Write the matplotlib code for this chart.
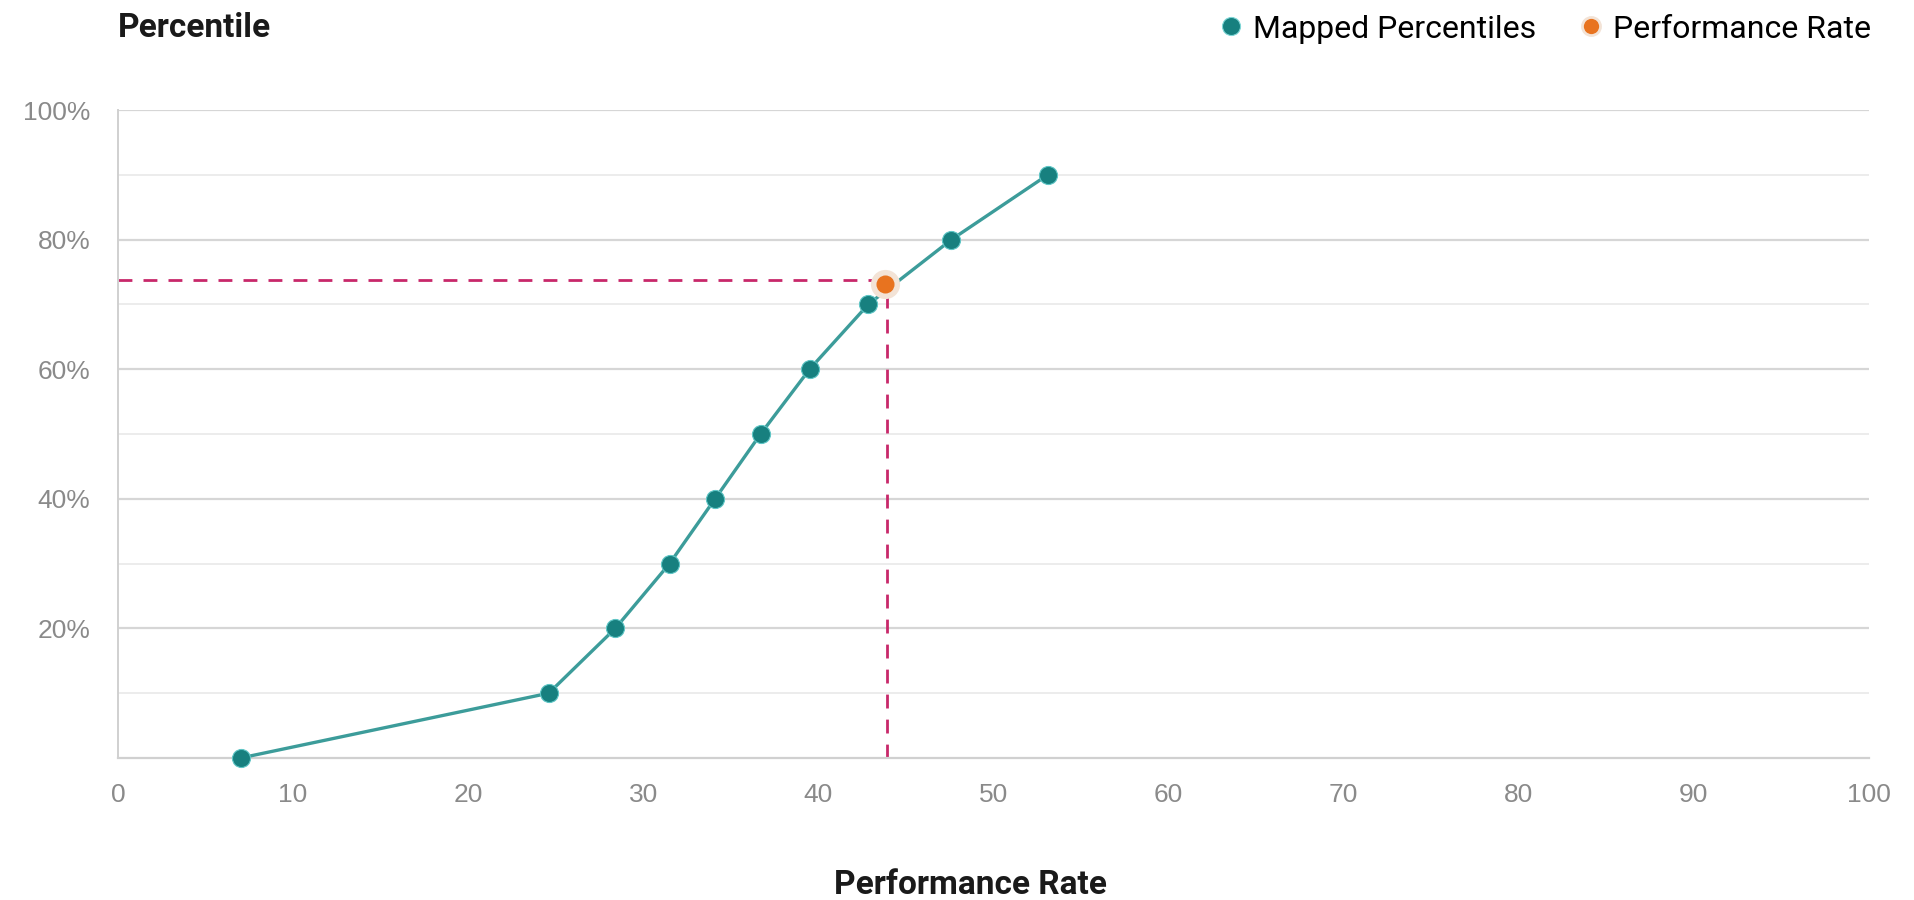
import matplotlib.pyplot as plt
from matplotlib.lines import Line2D
from matplotlib.ticker import FixedLocator

# mapped percentile curve
rate = [7.0, 24.6, 28.4, 31.5, 34.1, 36.7, 39.5, 42.85, 47.6, 53.1]
percentile = [0, 10, 20, 30, 40, 50, 60, 70, 80, 90]

# the highlighted performance rate
perf_rate = 43.8
perf_pct = 73.2

x_ticks = [0, 10, 20, 30, 40, 50, 60, 70, 80, 90, 100]
y_ticks = [20, 40, 60, 80, 100]
y_tick_labels = ["20%", "40%", "60%", "80%", "100%"]

TEAL = "#17807f"
TEAL_LINE = "#3c9c9a"
ORANGE = "#e8731f"
CRIMSON = "#c8286a"

fig = plt.figure(figsize=(19.15, 9), dpi=100)
ax = fig.add_axes([118 / 1915, 1 - 758 / 900, (1869 - 118) / 1915, (758 - 110) / 900])

ax.set_xlim(0, 100)
ax.set_ylim(0, 100)

# grid: strong every 20%, faint every 10%
ax.yaxis.set_major_locator(FixedLocator(y_ticks))
ax.yaxis.set_minor_locator(FixedLocator([10, 30, 50, 70, 90]))
ax.set_yticklabels(y_tick_labels)
ax.set_xticks(x_ticks)
ax.grid(axis="y", which="major", color="#d6d6d6", linewidth=1.6)
ax.grid(axis="y", which="minor", color="#ececec", linewidth=1.4)
ax.set_axisbelow(True)

for side in ["top", "right"]:
    ax.spines[side].set_visible(False)
ax.spines["left"].set_color("#d0d0d0")
ax.spines["left"].set_linewidth(1.4)
ax.spines["bottom"].set_color("#d0d0d0")
ax.spines["bottom"].set_linewidth(1.6)

ax.tick_params(axis="both", which="both", length=0, labelsize=19,
               labelcolor="#8a8a8a")
ax.tick_params(axis="x", pad=18)
ax.tick_params(axis="y", pad=20)
for lbl in ax.get_xticklabels() + ax.get_yticklabels():
    lbl.set_fontfamily("Liberation Sans")

# dashed guide lines to the performance point
ax.plot([0, perf_rate], [perf_pct + 0.5, perf_pct + 0.5], color=CRIMSON,
        linewidth=2.0, linestyle=(0, (5, 4)), zorder=2)
ax.plot([perf_rate + 0.1, perf_rate + 0.1], [0, perf_pct + 0.5], color=CRIMSON,
        linewidth=2.0, linestyle=(0, (5, 4)), zorder=2)

ax.plot(rate, percentile, color=TEAL_LINE, linewidth=2.4, zorder=3)
ax.plot(rate, percentile, linestyle="none", marker="o", markersize=13,
        markerfacecolor=TEAL, markeredgecolor="#5fc6c6", markeredgewidth=0.8,
        zorder=4, clip_on=False)

# performance rate point with a soft halo
ax.plot([perf_rate], [perf_pct], linestyle="none", marker="o", markersize=21,
        markerfacecolor="#f3e3d6", markeredgecolor="none", zorder=5)
ax.plot([perf_rate], [perf_pct], linestyle="none", marker="o", markersize=13,
        markerfacecolor=ORANGE, markeredgecolor="none", zorder=6)

fig.text(118 / 1915, 1 - 28 / 900, "Percentile", fontsize=24, fontweight="bold",
         fontfamily="Roboto", color="#1a1a1a", ha="left", va="center")
fig.text(970 / 1915, 1 - 885 / 900, "Performance Rate", fontsize=24,
         fontweight="bold", fontfamily="Roboto", color="#1a1a1a",
         ha="center", va="center")

handles = [
    Line2D([], [], linestyle="none", marker="o", markersize=13,
           markerfacecolor=TEAL, markeredgecolor="#7fd6d6", markeredgewidth=0.8),
    Line2D([], [], linestyle="none", marker="o", markersize=13,
           markerfacecolor=ORANGE, markeredgecolor="#f3e3d6", markeredgewidth=2),
]
fig.legend(handles, ["Mapped Percentiles", "Performance Rate"], ncol=2,
           loc="center right", bbox_to_anchor=(1900 / 1915, 1 - 29 / 900),
           frameon=False, handletextpad=0.2, columnspacing=1.2,
           handlelength=1.0, prop={"family": "Roboto", "size": 23})

fig.savefig("out.png", dpi=100, facecolor="white")
